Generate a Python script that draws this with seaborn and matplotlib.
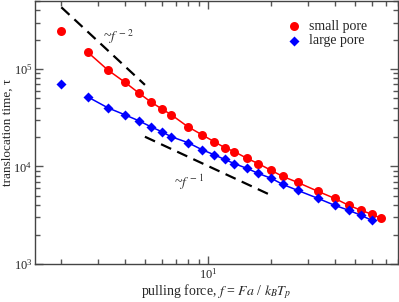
import pandas as pd
import matplotlib
matplotlib.use('Agg')
import matplotlib.pyplot as plt
from matplotlib.ticker import LogLocator, NullFormatter
import seaborn as sns

# values (log-log)
f_small = [2, 2.67, 3.33, 4, 4.67, 5.33, 6, 6.67, 8, 9.33, 10.67, 12, 13.33,
           15.33, 17.33, 20, 22.67, 26.67, 33.33, 40, 46.67, 53.33, 60, 66.67]
tau_small = [244000, 149000, 97700, 73600, 56900, 46000, 39100, 34000, 25600,
             21200, 18000, 15600, 14200, 12100, 10700, 9100, 7910, 6870, 5560,
             4710, 4000, 3560, 3240, 2940]

f_large = [2, 2.67, 3.33, 4, 4.67, 5.33, 6, 6.67, 8, 9.33, 10.67, 12, 13.33,
           15.33, 17.33, 20, 22.67, 26.67, 33.33, 40, 46.67, 53.33, 60]
tau_large = [70300, 51800, 40000, 34000, 29500, 25600, 22800, 20200, 17600,
             14900, 13200, 11800, 10700, 9550, 8490, 7550, 6550, 5690, 4710,
             4000, 3560, 3160, 2810]

# guide lines for the scaling laws
guide2_f = [2, 5]
guide2_tau = [430000, 68800]
guide1_f = [5, 20]
guide1_tau = [20200, 5050]

small = pd.DataFrame({'f': f_small, 'tau': tau_small, 'pore': 'small pore'})
large = pd.DataFrame({'f': f_large, 'tau': tau_large, 'pore': 'large pore'})

sns.set_style('ticks')
plt.rcParams['font.family'] = ['Liberation Serif', 'DejaVu Serif']
plt.rcParams['mathtext.fontset'] = 'stix'

fig = plt.figure(figsize=(3.99, 3.02), dpi=100)
ax = fig.add_axes([0.088, 0.126, 0.909, 0.871])

# fitted curves (skip the first point)
sns.lineplot(data=small.iloc[1:], x='f', y='tau', color='#ff0000', lw=1.1,
             sort=False, estimator=None, ax=ax, legend=False)
sns.lineplot(data=large.iloc[1:], x='f', y='tau', color='#0000ff', lw=1.1,
             sort=False, estimator=None, ax=ax, legend=False)

sns.scatterplot(data=small, x='f', y='tau', color='#ff0000', marker='o',
                s=42, linewidth=0, ax=ax, zorder=3, label='small pore')
sns.scatterplot(data=large, x='f', y='tau', color='#0000ff', marker='D',
                s=26, linewidth=0, ax=ax, zorder=3, label='large pore')

ax.plot(guide2_f, guide2_tau, color='black', ls=(0, (5, 3)), lw=1.6)
ax.plot(guide1_f, guide1_tau, color='black', ls=(0, (5, 3)), lw=1.6)

ax.text(3.15, 1.95e5, r'~$f^{\,-\,2}$', fontsize=10, color='#333333')
ax.text(6.9, 6.2e3, r'~$f^{\,-\,1}$', fontsize=10, color='#333333')

ax.set_xscale('log')
ax.set_yscale('log')
ax.set_xlim(1.5, 80)
ax.set_ylim(1e3, 5e5)
for axis in (ax.xaxis, ax.yaxis):
    axis.set_minor_locator(LogLocator(base=10, subs=(2, 3, 4, 5, 6, 7, 8, 9),
                                      numticks=20))
    axis.set_minor_formatter(NullFormatter())

ax.set_xlabel(r'pulling force, $f$ = $Fa$ / $k_BT_p$', fontsize=10, labelpad=1)
ax.set_ylabel('translocation time, τ', fontsize=9.5)
ax.yaxis.set_label_coords(-0.058, 0.5)

ax.tick_params(which='both', direction='in', top=True, right=True,
               color='#555555', width=1.0, labelsize=9, pad=2)
ax.tick_params(which='major', length=6)
ax.tick_params(which='minor', length=3.5)
for s in ax.spines.values():
    s.set_color('#444444')
    s.set_linewidth(1.0)

ax.legend(loc='upper right', bbox_to_anchor=(0.95, 0.975), frameon=False,
          fontsize=10, handletextpad=0.1, labelspacing=0.1)

fig.savefig('out.png', dpi=100)
